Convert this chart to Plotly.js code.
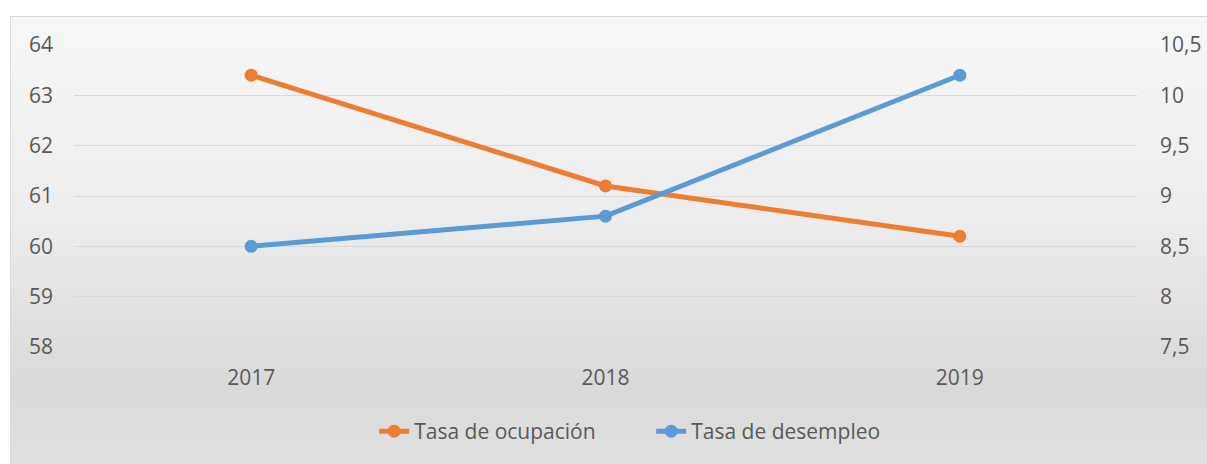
<!DOCTYPE html>
<html>
<head>
<meta charset="utf-8">
<script src="https://cdn.plot.ly/plotly-3.0.1.min.js"></script>
<style>
html,body{margin:0;padding:0;background:#ffffff;}
#wrap{position:relative;width:1207px;height:464px;overflow:hidden;}
#bg{position:absolute;left:10px;top:16px;width:1205px;height:460px;border:1px solid #d9d9d9;
 background:linear-gradient(to bottom,#f7f7f7 0%,#ececec 45%,#d9d9d9 80%,#e2e2e2 100%);}
#chart{position:absolute;left:0;top:0;width:1207px;height:464px;}
</style>
</head>
<body>
<div id="wrap"><div id="bg"></div><div id="chart"></div></div>
<script>
const years = ['2017', '2018', '2019'];
const tasaOcupacion = [63.4, 61.2, 60.2];
const tasaDesempleo = [8.5, 8.8, 10.2];
const leftTicks = [58, 59, 60, 61, 62, 63, 64];
const rightTicks = [7.5, 8, 8.5, 9, 9.5, 10, 10.5];

const fontFam = '"Open Sans", "Noto Sans", sans-serif';
const traces = [
  {x: years, y: tasaOcupacion, name: 'Tasa de ocupación', type: 'scatter', mode: 'lines+markers',
   line: {color: '#ED7D31', width: 5}, marker: {color: '#ED7D31', size: 13}, yaxis: 'y'},
  {x: years, y: tasaDesempleo, name: 'Tasa de desempleo', type: 'scatter', mode: 'lines+markers',
   line: {color: '#5B9BD5', width: 5}, marker: {color: '#5B9BD5', size: 13}, yaxis: 'y2'}
];
const layout = {
  width: 1207, height: 464,
  paper_bgcolor: 'rgba(0,0,0,0)', plot_bgcolor: 'rgba(0,0,0,0)',
  separators: ', ',
  margin: {l: 74, r: 70, t: 45, b: 117},
  font: {family: fontFam, size: 21, color: '#595959'},
  showlegend: true,
  legend: {orientation: 'h', x: 0.543, xanchor: 'center', y: -0.28, yanchor: 'middle',
           font: {size: 21, color: '#595959'}, bgcolor: 'rgba(0,0,0,0)',
           entrywidth: 232, entrywidthmode: 'pixels'},
  xaxis: {type: 'category', range: [-0.5, 2.5], showgrid: false, zeroline: false, showline: false,
          ticks: '', ticklabelstandoff: 16, tickfont: {size: 21, color: '#595959'}},
  yaxis: {range: [58, 64], tickvals: leftTicks, showgrid: true, gridcolor: '#d9d9d9', gridwidth: 1,
          zeroline: false, showline: false, ticks: '', ticklabelstandoff: 20,
          tickfont: {size: 21, color: '#595959'}},
  yaxis2: {range: [7.5, 10.5], tickvals: rightTicks, overlaying: 'y', side: 'right', showgrid: false,
           zeroline: false, showline: false, ticks: '', ticklabelstandoff: 22,
           tickfont: {size: 21, color: '#595959'}}
};
Plotly.newPlot('chart', traces, layout, {displayModeBar: false, staticPlot: true});
</script>
</body>
</html>
